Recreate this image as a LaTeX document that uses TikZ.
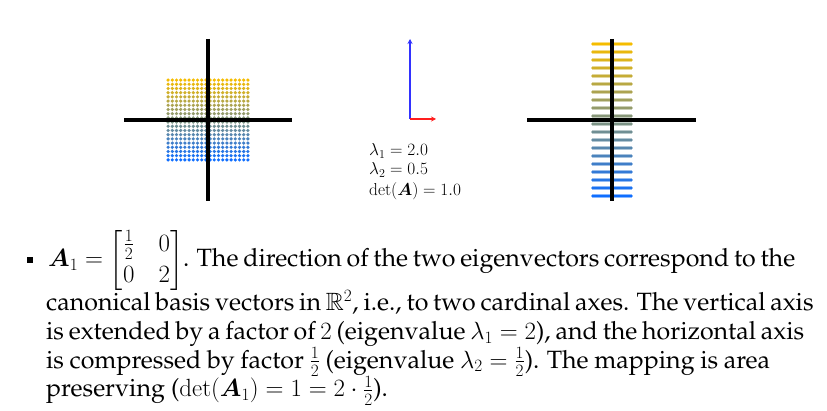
\documentclass[tikz,border=0pt]{standalone}
\usepackage[T1]{fontenc}
\usepackage{amsmath,amssymb,bm}
\renewcommand{\rmdefault}{ppl}
\usetikzlibrary{arrows.meta}
\definecolor{ytop}{RGB}{245,188,0}
\definecolor{bbot}{RGB}{15,110,255}
\definecolor{vblue}{RGB}{50,50,255}
\definecolor{vred}{RGB}{255,30,30}
\newcommand\myparafont{\fontsize{25}{28.7}\selectfont\thickmuskip=5mu plus 12mu\relax}
\tikzset{
  axis/.style={line width=3.6pt, black},
  vec/.style={line width=1.5pt, -{Stealth[length=5pt,width=5pt]}},
  para/.style={anchor=base west, inner sep=0pt, font=\myparafont},
  lam/.style={anchor=base west, inner sep=0pt, font=\fontsize{17.2}{20}\selectfont},
}
\begin{document}
\begin{tikzpicture}[x=1pt,y=-1pt]
\useasboundingbox (0,0) rectangle (827,411);
% left panel dots
\foreach \i in {0,...,19}{
  \pgfmathsetmacro\t{\i/19*100}
  \colorlet{rowc}{bbot!\t!ytop}
  \foreach \j in {0,...,19}{
    \fill[rowc] (168.1+4.2*\j, 80.1+4.2*\i) circle (1.8);
  }
}
% right panel dots (transformed)
\foreach \i in {0,...,19}{
  \pgfmathsetmacro\t{\i/19*100}
  \colorlet{rowc}{bbot!\t!ytop}
  \foreach \j in {0,...,19}{
    \fill[rowc] (593+2*\j, 44+8*\i) circle (1.8);
  }
}
% axes
\coordinate (l1) at (124,120); \coordinate (l2) at (292,120);
\coordinate (l3) at (208,39);  \coordinate (l4) at (208,201);
\draw[axis] (l1) -- (l2);
\draw[axis] (l3) -- (l4);
\coordinate (r1) at (527,120); \coordinate (r2) at (696,120);
\coordinate (r3) at (612,39);  \coordinate (r4) at (612,201);
\draw[axis] (r1) -- (r2);
\draw[axis] (r3) -- (r4);
% eigenvectors
\coordinate (o) at (410,119);
\coordinate (e1) at (410,39);
\coordinate (e2) at (436,119);
\draw[vec, vblue] (o) -- (e1);
\draw[vec, vred] (o) -- (e2);
\node[lam] (v1) at (369,156) {$\lambda_1=2.0$};
\node[lam] (v2) at (369,175) {$\lambda_2=0.5$};
\node[lam] (v3) at (369,195.5) {$\det(\boldsymbol{A})=1.0$};
% bullet
\node[fill=black, minimum size=6pt, inner sep=0pt] (bul) at (30,260) {};
% paragraph
\node[para] (p1) at (48,266.7) {\setlength\arraycolsep{12pt}\renewcommand\arraystretch{1.1}\makebox[722pt][s]{$\boldsymbol{A}_1 = \begin{bmatrix}\frac12 & 0\\ 0 & 2\end{bmatrix}$. The direction of the two eigenvectors correspond to the}};
\node[para] (p2) at (46,310.7) {\makebox[724pt][s]{canonical basis vectors in $\mathbb{R}^2$, i.e., to two cardinal axes. The vertical axis}};
\node[para] (p3) at (46,339.4) {\makebox[724pt][s]{is extended by a factor of $2$ (eigenvalue $\lambda_1 = 2$), and the horizontal axis}};
\node[para] (p4) at (46,368.1) {\makebox[724pt][s]{is compressed by factor $\frac12$ (eigenvalue $\lambda_2 = \frac12$). The mapping is area}};
\node[para] (p5) at (46,396.8) {preserving ($\det(\boldsymbol{A}_1) = 1 = 2\cdot\frac12$).};
\end{tikzpicture}
\end{document}
